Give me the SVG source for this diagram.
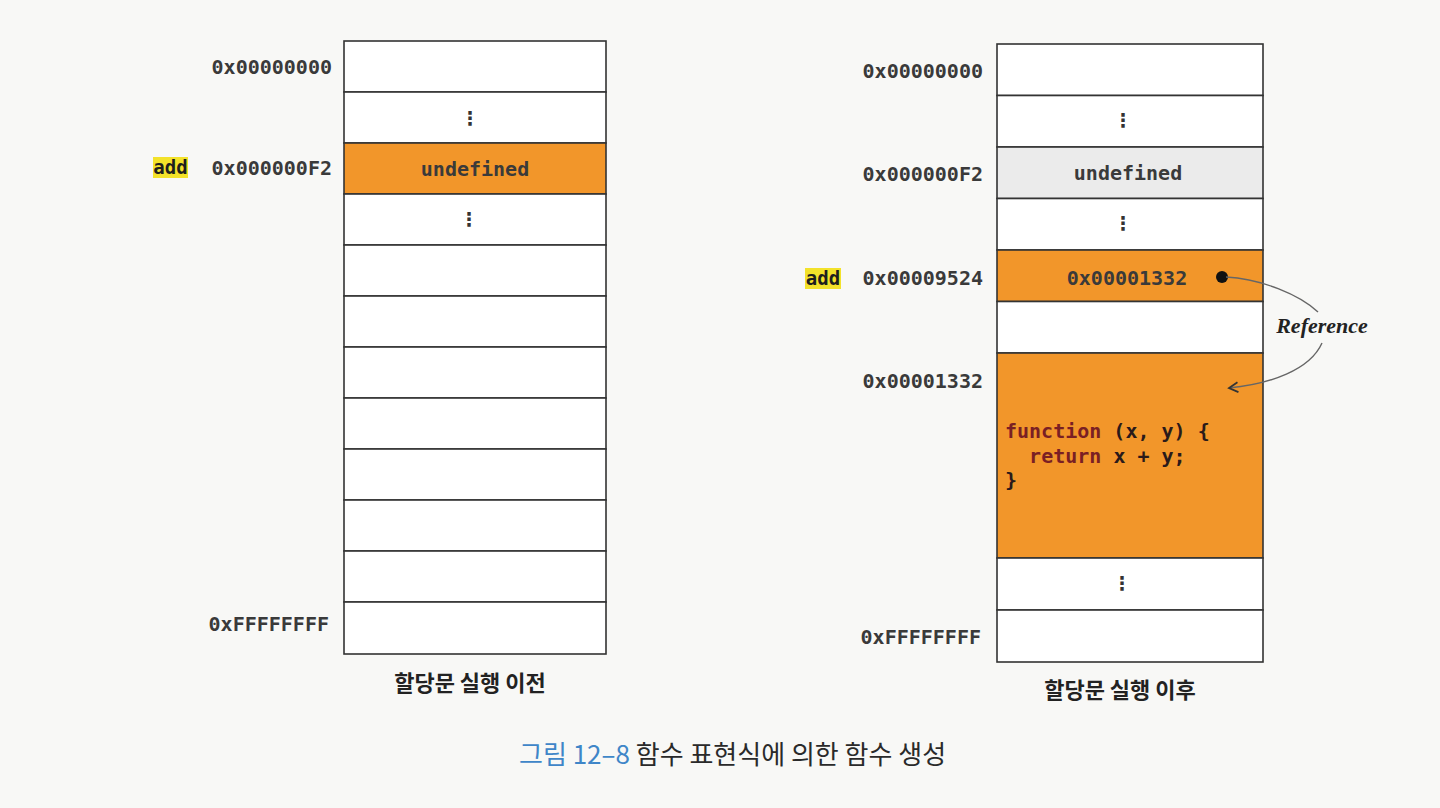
<svg xmlns="http://www.w3.org/2000/svg" width="1440" height="808" viewBox="0 0 1440 808">
<defs>
<style>
.cell{stroke:#333;stroke-width:1.6;fill:#fff}
.org{fill:#f2962a}
.gry{fill:#ebebeb}
.mono{font-family:"DejaVu Sans Mono","Liberation Mono",monospace;font-size:20px;font-weight:bold;fill:#3a3a3a}
.addr{text-anchor:end}
.mid{text-anchor:middle}
.dots{font-family:"DejaVu Sans",sans-serif;font-size:19px;font-weight:bold;fill:#333;text-anchor:middle}
.hl{fill:#f3e22a}
.add{font-family:"DejaVu Sans Mono",monospace;font-size:19px;font-weight:bold;fill:#1e1e1e;text-anchor:middle}
.code{font-family:"DejaVu Sans Mono","Liberation Mono",monospace;font-size:20px;font-weight:bold;fill:#2a1a1a}
.kw{fill:#7a1f24}
.cap{font-family:"Noto Sans CJK KR","Noto Sans",sans-serif;font-size:22px;font-weight:700;fill:#222;text-anchor:middle}
.fig{font-family:"Noto Sans CJK KR","Noto Sans",sans-serif;font-size:26px;fill:#2a2a2a}
.conn{fill:none;stroke:#666;stroke-width:1.4}
</style>
<marker id="arr" viewBox="0 0 12 12" refX="10" refY="6" markerWidth="12" markerHeight="12" markerUnits="userSpaceOnUse" orient="auto">
<path d="M1,1 L10,6 L1,11" fill="none" stroke="#333" stroke-width="1.8"/>
</marker>
</defs>
<rect width="1440" height="808" fill="#f8f8f6"/>

<g id="memory-before">
<rect class="cell" x="344" y="41" width="262" height="51"/>
<rect class="cell" x="344" y="92" width="262" height="51"/>
<rect class="cell org" x="344" y="143" width="262" height="51"/>
<rect class="cell" x="344" y="194" width="262" height="51"/>
<rect class="cell" x="344" y="245" width="262" height="51"/>
<rect class="cell" x="344" y="296" width="262" height="51"/>
<rect class="cell" x="344" y="347" width="262" height="51"/>
<rect class="cell" x="344" y="398" width="262" height="51"/>
<rect class="cell" x="344" y="449" width="262" height="51"/>
<rect class="cell" x="344" y="500" width="262" height="51"/>
<rect class="cell" x="344" y="551" width="262" height="51"/>
<rect class="cell" x="344" y="602" width="262" height="52"/>
<text class="dots" x="470" y="125">⋮</text>
<text class="mono mid" x="475" y="176">undefined</text>
<text class="dots" x="469" y="226">⋮</text>
<text class="mono addr" x="332" y="74">0x00000000</text>
<text class="mono addr" x="332" y="175">0x000000F2</text>
<text class="mono addr" x="329" y="631">0xFFFFFFFF</text>
<rect class="hl" x="153" y="157" width="35" height="21"/>
<text class="add" x="170.5" y="174">add</text>
<text class="cap" x="470" y="691">할당문 실행 이전</text>
</g>

<g id="memory-after">
<rect class="cell" x="997" y="44" width="266" height="51.5"/>
<rect class="cell" x="997" y="95.5" width="266" height="51.5"/>
<rect class="cell gry" x="997" y="147" width="266" height="51.5"/>
<rect class="cell" x="997" y="198.5" width="266" height="51.5"/>
<rect class="cell org" x="997" y="250" width="266" height="51.5"/>
<rect class="cell" x="997" y="301.5" width="266" height="51.5"/>
<rect class="cell org" x="997" y="353" width="266" height="205"/>
<rect class="cell" x="997" y="558" width="266" height="52"/>
<rect class="cell" x="997" y="610" width="266" height="52"/>
<text class="dots" x="1123" y="127">⋮</text>
<text class="mono mid" x="1128" y="180">undefined</text>
<text class="dots" x="1123" y="230">⋮</text>
<text class="mono mid" x="1127" y="285">0x00001332</text>
<text class="dots" x="1122" y="590">⋮</text>
<text class="code" x="1005" y="438"><tspan class="kw">function</tspan> (x, y) {</text>
<text class="code" x="1005" y="463" xml:space="preserve">  <tspan class="kw">return</tspan> x + y;</text>
<text class="code" x="1005" y="487">}</text>
<text class="mono addr" x="983" y="78">0x00000000</text>
<text class="mono addr" x="983" y="181">0x000000F2</text>
<text class="mono addr" x="983" y="285">0x00009524</text>
<text class="mono addr" x="983" y="388">0x00001332</text>
<text class="mono addr" x="981" y="644">0xFFFFFFFF</text>
<rect class="hl" x="805" y="268" width="36" height="21"/>
<text class="add" x="823" y="285">add</text>
<text class="cap" x="1120" y="698">할당문 실행 이후</text>
</g>

<g id="connectors">
<circle cx="1222" cy="277" r="6" fill="#111"/>
<path class="conn" d="M1226,277 C1262,279 1300,295 1318,312"/>
<path class="conn" d="M1322,343 C1310,370 1270,384 1229,388" marker-end="url(#arr)"/>
<text x="1322" y="333" text-anchor="middle" font-family="Liberation Serif, serif" font-size="22" font-style="italic" font-weight="bold" fill="#222">Reference</text>
</g>

<g id="caption">
<text class="fig" x="519" y="764"><tspan fill="#3f86c8">그림 12–8</tspan> 함수 표현식에 의한 함수 생성</text>
</g>
</svg>
